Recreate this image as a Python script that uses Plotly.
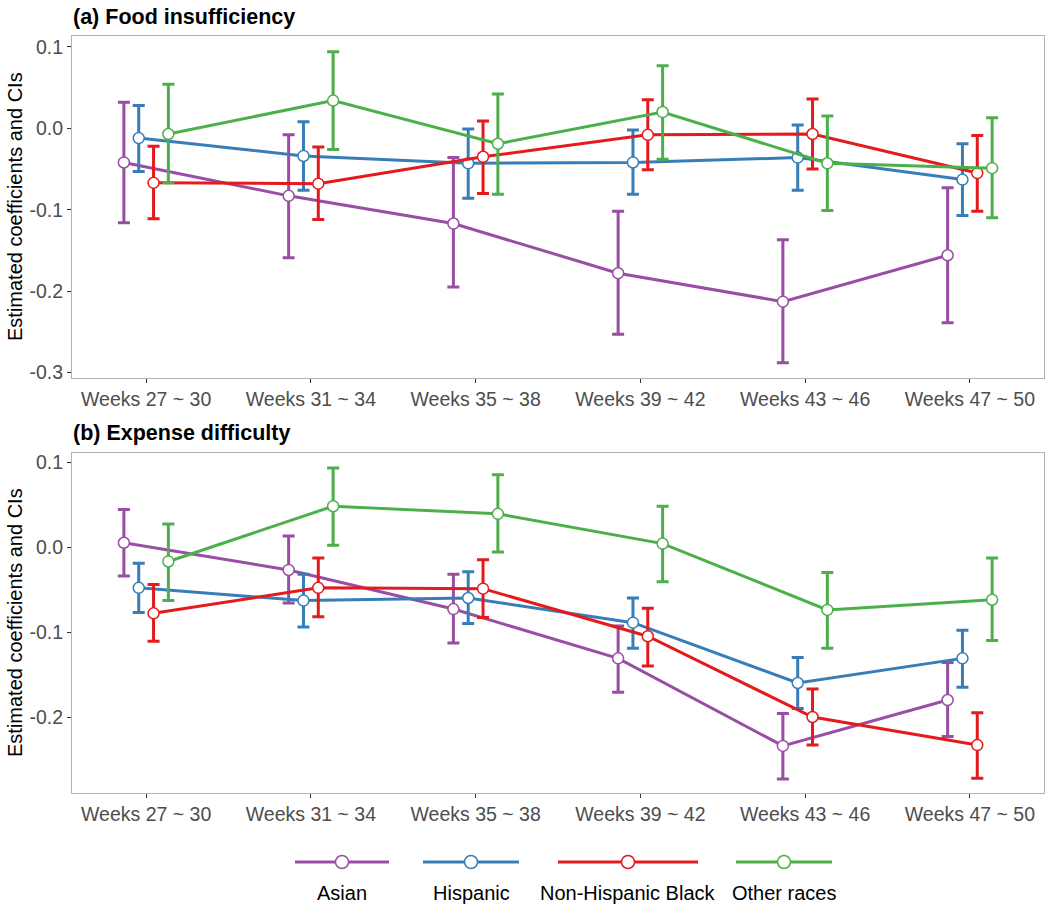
import plotly.graph_objects as go
from plotly.subplots import make_subplots

# ---------------- data ----------------
periods = ["Weeks 27 ~ 30", "Weeks 31 ~ 34", "Weeks 35 ~ 38",
           "Weeks 39 ~ 42", "Weeks 43 ~ 46", "Weeks 47 ~ 50"]
groups = ["Asian", "Hispanic", "Non-Hispanic Black", "Other races"]
colors = ["#984EA3", "#377EB8", "#E41A1C", "#4DAF4A"]

# (a) Food insufficiency
asian_a = [-0.042, -0.083, -0.117, -0.178, -0.213, -0.156]
asian_a_lo = [-0.116, -0.159, -0.195, -0.253, -0.288, -0.239]
asian_a_hi = [0.032, -0.008, -0.036, -0.102, -0.137, -0.073]
hisp_a = [-0.012, -0.034, -0.043, -0.042, -0.036, -0.063]
hisp_a_lo = [-0.053, -0.076, -0.086, -0.081, -0.076, -0.107]
hisp_a_hi = [0.028, 0.008, -0.001, -0.002, 0.004, -0.019]
black_a = [-0.067, -0.068, -0.035, -0.008, -0.007, -0.055]
black_a_lo = [-0.111, -0.112, -0.080, -0.051, -0.050, -0.102]
black_a_hi = [-0.022, -0.023, 0.009, 0.035, 0.036, -0.009]
other_a = [-0.007, 0.034, -0.019, 0.020, -0.043, -0.049]
other_a_lo = [-0.067, -0.026, -0.081, -0.038, -0.101, -0.110]
other_a_hi = [0.054, 0.094, 0.042, 0.077, 0.015, 0.013]

# (b) Expense difficulty
asian_b = [0.005, -0.027, -0.073, -0.131, -0.234, -0.180]
asian_b_lo = [-0.034, -0.066, -0.113, -0.171, -0.273, -0.223]
asian_b_hi = [0.044, 0.013, -0.032, -0.093, -0.196, -0.136]
hisp_b = [-0.048, -0.063, -0.060, -0.089, -0.160, -0.131]
hisp_b_lo = [-0.077, -0.094, -0.090, -0.119, -0.190, -0.165]
hisp_b_hi = [-0.019, -0.032, -0.029, -0.060, -0.130, -0.098]
black_b = [-0.078, -0.048, -0.049, -0.105, -0.200, -0.233]
black_b_lo = [-0.111, -0.082, -0.083, -0.140, -0.233, -0.272]
black_b_hi = [-0.044, -0.013, -0.015, -0.072, -0.167, -0.195]
other_b = [-0.017, 0.048, 0.039, 0.004, -0.074, -0.062]
other_b_lo = [-0.063, 0.002, -0.006, -0.041, -0.119, -0.110]
other_b_hi = [0.027, 0.093, 0.085, 0.048, -0.030, -0.013]

ytick_vals_a = [0.1, 0.0, -0.1, -0.2, -0.3]
ytick_text_a = ["0.1", "0.0", "-0.1", "-0.2", "-0.3"]
ytick_vals_b = [0.1, 0.0, -0.1, -0.2]
ytick_text_b = ["0.1", "0.0", "-0.1", "-0.2"]

panel_titles = ["(a) Food insufficiency", "(b) Expense difficulty"]
y_title = "Estimated coefficients and CIs"

panels = [
    [(asian_a, asian_a_lo, asian_a_hi), (hisp_a, hisp_a_lo, hisp_a_hi),
     (black_a, black_a_lo, black_a_hi), (other_a, other_a_lo, other_a_hi)],
    [(asian_b, asian_b_lo, asian_b_hi), (hisp_b, hisp_b_lo, hisp_b_hi),
     (black_b, black_b_lo, black_b_hi), (other_b, other_b_lo, other_b_hi)],
]

# ---------------- figure ----------------
FONT = "Liberation Sans, Arial, Helvetica, sans-serif"
W, H = 1045, 907
ML, MR, MT, MB = 72, 1, 36, 114
PH = H - MT - MB
PW = W - ML - MR

fig = make_subplots(rows=2, cols=1)

offsets = [-0.135, -0.045, 0.045, 0.135]

for p, series in enumerate(panels):
    row = p + 1
    fig.add_hline(y=0, line=dict(color="#BEBEBE", width=3), row=row, col=1, layer="below")
    for g, (vals, lo, hi) in enumerate(series):
        xs = [i + offsets[g] for i in range(len(periods))]
        fig.add_trace(go.Scatter(
            x=xs, y=vals, mode="lines+markers", name=groups[g], showlegend=False,
            line=dict(color=colors[g], width=3),
            marker=dict(size=11, color="white", line=dict(color=colors[g], width=1.5)),
            error_y=dict(type="data", symmetric=False,
                         array=[h - v for h, v in zip(hi, vals)],
                         arrayminus=[v - l for v, l in zip(vals, lo)],
                         color=colors[g], thickness=3, width=6),
        ), row=row, col=1)

top_a = 1.0
bot_a = (793 - 378) / PH
top_b = (793 - 453) / PH
bot_b = 0.0

axis_common = dict(showline=True, linecolor="#B3B3B3", linewidth=1, mirror=True,
                   showgrid=False, zeroline=False, ticks="outside", ticklen=4,
                   tickcolor="#333333", tickwidth=1,
                   tickfont=dict(family=FONT, size=19.5, color="#4D4D4D"))

fig.update_layout(
    xaxis=dict(domain=[0, 1], range=[-0.45, 5.45], tickvals=list(range(len(periods))),
               ticktext=periods, anchor="y", **axis_common),
    xaxis2=dict(domain=[0, 1], range=[-0.45, 5.45], tickvals=list(range(len(periods))),
                ticktext=periods, anchor="y2", **axis_common),
    yaxis=dict(domain=[bot_a, top_a], range=[-0.3068, 0.1134], tickvals=ytick_vals_a,
               ticktext=ytick_text_a, anchor="x", **axis_common),
    yaxis2=dict(domain=[bot_b, top_b], range=[-0.2894, 0.1106], tickvals=ytick_vals_b,
                ticktext=ytick_text_b, anchor="x2", **axis_common),
)

annotations = []
for (top, bot), title, ty in zip([(top_a, bot_a), (top_b, bot_b)], panel_titles, [17, 433]):
    annotations.append(dict(text="<b>" + title + "</b>", xref="paper", yref="paper",
                            x=-1 / PW, y=(793 - ty) / PH, xanchor="left", yanchor="middle",
                            showarrow=False, font=dict(family=FONT, size=21.5, color="black")))
    annotations.append(dict(text=y_title, xref="paper", yref="paper",
                            x=(15 - ML) / PW, y=(top + bot) / 2, textangle=-90,
                            xanchor="center", yanchor="middle", showarrow=False,
                            font=dict(family=FONT, size=20, color="black")))

# custom legend (key above label)
leg_centers_px = [342, 471, 628, 784]
leg_half_px = [47, 48, 70, 48]
shapes = []
y_key = (793 - 862) / PH
y_lab = (793 - 893) / PH
for g in range(len(groups)):
    xc = (leg_centers_px[g] - ML) / PW
    shapes.append(dict(type="line", xref="paper", yref="paper", xsizemode="pixel",
                       xanchor=xc, x0=-leg_half_px[g], x1=leg_half_px[g], y0=y_key, y1=y_key,
                       line=dict(color=colors[g], width=3)))
    shapes.append(dict(type="circle", xref="paper", yref="paper", xsizemode="pixel",
                       ysizemode="pixel", xanchor=xc, yanchor=y_key, x0=-6.5, x1=6.5,
                       y0=-6.5, y1=6.5, fillcolor="white",
                       line=dict(color=colors[g], width=1.5)))
    annotations.append(dict(text=groups[g], xref="paper", yref="paper", x=xc, y=y_lab,
                            xanchor="center", yanchor="middle", showarrow=False,
                            font=dict(family=FONT, size=20, color="black")))

fig.update_layout(
    width=W, height=H,
    margin=dict(l=ML, r=MR, t=MT, b=MB),
    paper_bgcolor="white", plot_bgcolor="white",
    showlegend=False,
    annotations=annotations,
    font=dict(family=FONT, size=19, color="black"),
)
for s in shapes:
    fig.add_shape(**s)

fig.write_html("out.html",
               config={"displayModeBar": False},
               post_script="document.body.style.margin='0';document.body.style.padding='0';"
                           "document.body.style.overflow='hidden';")
